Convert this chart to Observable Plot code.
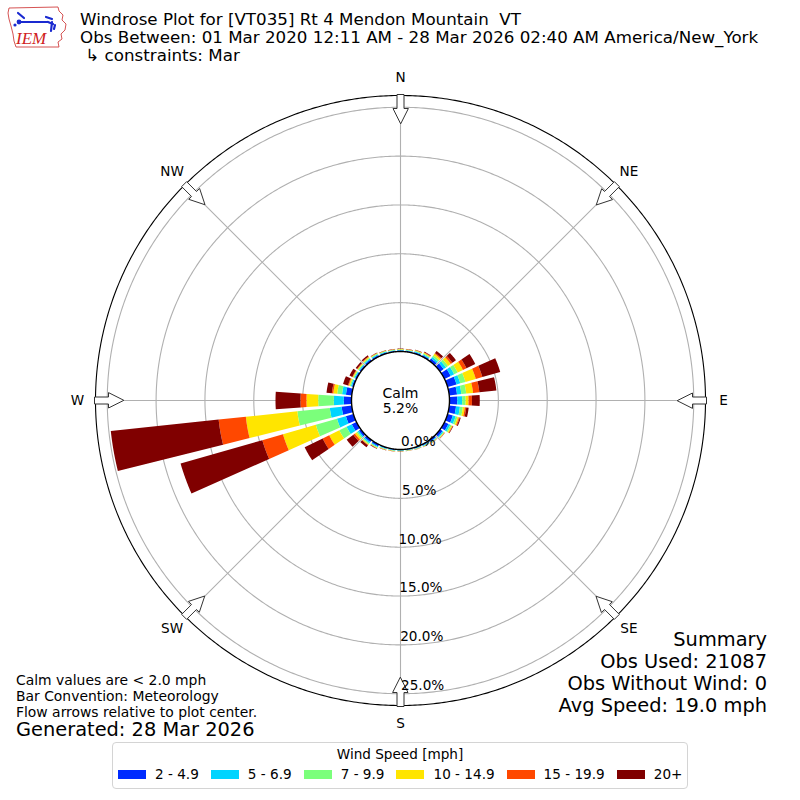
<!DOCTYPE html>
<html><head><meta charset="utf-8">
<script src="https://cdn.jsdelivr.net/npm/d3@7"></script>
<script src="https://cdn.jsdelivr.net/npm/@observablehq/plot@0.6"></script>
<style>
body{margin:0;background:#fff;font-family:"DejaVu Sans",sans-serif;}
#wrap{position:relative;width:800px;height:800px;overflow:hidden;background:#fff;}
#chart{position:absolute;left:0;top:0;}
.t{position:absolute;white-space:pre;color:#000;}
.sum{position:absolute;right:33px;font-size:19.4px;line-height:22px;text-align:right;white-space:pre;}
#legend{position:absolute;left:112px;top:742px;width:574px;height:45px;border:1px solid #d4d4d4;border-radius:4px;background:#fff;font-size:13.6px;}
#legend .ttl{position:absolute;left:0;right:0;top:2px;text-align:center;line-height:18px;}
#legend .row{position:absolute;left:5px;top:22px;display:flex;align-items:center;height:18px;white-space:pre;}
#legend .sw{display:inline-block;width:28px;height:9px;margin-right:9px;}
#legend .lb{margin-right:12px;}
</style></head><body>
<div id="wrap">
  <div id="chart"></div>
  <svg class="t" style="left:6px;top:4px" width="62" height="46" viewBox="0 0 62 46">
    <path d="M3,4 L52,3 L53,7 L57,11 L56,16 L60,20 L59,26 L55,30 L56,35 L52,38 L53,43 L10,43 L8,37 L7,30 L5,22 L3,15 L2,9 Z" fill="none" stroke="#d04040" stroke-width="0.9"/>
    <path d="M13,18 L42,18 M12,9 L18,14 M40,13 L46,15 M42,18 L47,20 M46,18 L45,27 M49,21 L48,25" stroke="#1a2ad0" stroke-width="2.2" fill="none" stroke-linecap="round"/>
    <circle cx="13" cy="18" r="2.4" fill="#1a2ad0"/>
    <circle cx="9" cy="21" r="1.6" fill="#1a2ad0"/>
    <text x="10" y="40" font-family="Liberation Serif" font-style="italic" font-size="17" fill="#d02020">IEM</text>
  </svg>
  <div class="t" style="left:80px;top:10px;font-size:16.7px;line-height:18px;">Windrose Plot for [VT035] Rt 4 Mendon Mountain  VT
Obs Between: 01 Mar 2020 12:11 AM - 28 Mar 2026 02:40 AM America/New_York
 ↳ constraints: Mar</div>
  <div class="t" style="left:16px;top:672px;font-size:13.9px;line-height:16px;">Calm values are &lt; 2.0 mph
Bar Convention: Meteorology
Flow arrows relative to plot center.</div>
  <div class="t" style="left:16px;top:719px;font-size:19.4px;line-height:22px;">Generated: 28 Mar 2026</div>
  <div class="sum" style="top:629px;">Summary</div>
  <div class="sum" style="top:651px;">Obs Used: 21087</div>
  <div class="sum" style="top:673px;">Obs Without Wind: 0</div>
  <div class="sum" style="top:695px;">Avg Speed: 19.0 mph</div>
  <div id="legend"><div class="ttl">Wind Speed [mph]</div><div class="row" id="legrow"></div></div>
</div>
<script>
// ---------- data ----------
const directions = d3.range(0, 360, 10); // bar centres, degrees from north
const speedBins = ["2 - 4.9", "5 - 6.9", "7 - 9.9", "10 - 14.9", "15 - 19.9", "20+"];
const binColors = ["#002bff", "#00d4ff", "#7bff7b", "#ffe500", "#ff4800", "#800000"];
// percent of observations per direction (0,10,...,350) for each speed bin
const bin2to5 =   [0.10,0.10,0.13,0.15,0.30,0.45,0.70,0.95,0.80,0.80,0.70,0.55,0.45,0.30,0.20,0.12,0.10,0.08,0.08,0.09,0.10,0.20,0.25,0.25,0.53,0.80,1.04,0.79,0.60,0.15,0.15,0.15,0.18,0.15,0.12,0.10];
const bin5to7 =   [0.06,0.06,0.09,0.10,0.20,0.30,0.40,0.40,0.45,0.50,0.40,0.30,0.20,0.12,0.08,0.08,0.06,0.05,0.05,0.06,0.07,0.10,0.15,0.15,0.60,0.95,1.22,1.02,0.40,0.12,0.10,0.10,0.12,0.10,0.08,0.06];
const bin7to10 =  [0.05,0.05,0.07,0.10,0.20,0.25,0.40,0.55,0.50,0.35,0.30,0.20,0.15,0.08,0.06,0.05,0.04,0.03,0.03,0.04,0.05,0.08,0.12,0.15,0.82,2.25,3.34,1.60,0.50,0.12,0.10,0.10,0.10,0.08,0.06,0.05];
const bin10to15 = [0.04,0.04,0.05,0.08,0.20,0.35,0.60,1.10,0.70,0.30,0.20,0.15,0.10,0.05,0.03,0.02,0.02,0.02,0.02,0.03,0.04,0.05,0.08,0.20,1.15,3.50,5.30,1.20,0.40,0.10,0.08,0.08,0.10,0.05,0.04,0.04];
const bin15to20 = [0.02,0.02,0.03,0.05,0.10,0.20,0.40,0.70,0.65,0.35,0.15,0.10,0.05,0.03,0.02,0.02,0.02,0.01,0.01,0.02,0.02,0.03,0.05,0.20,0.75,2.20,2.80,0.61,0.15,0.08,0.05,0.05,0.05,0.03,0.02,0.02];
const bin20plus = [0.03,0.03,0.03,0.07,0.25,0.45,1.00,1.90,1.75,0.80,0.25,0.10,0.05,0.02,0.01,0.01,0.01,0.01,0.01,0.01,0.02,0.04,0.25,0.85,2.05,8.70,11.10,2.56,0.55,0.53,0.32,0.17,0.15,0.04,0.03,0.03];
const calmPercent = 5.2;
const ringPercents = [0, 5, 10, 15, 20, 25];
const ringLabels = ["0.0%", "5.0%", "10.0%", "15.0%", "20.0%", "25.0%"];
const compassAngles = [0, 45, 90, 135, 180, 225, 270, 315];
const compassLabels = ["N", "NE", "E", "SE", "S", "SW", "W", "NW"];

// ---------- geometry (polar via azimuthal equidistant about the pole) ----------
const CX = 400, CY = 400;
const R0 = 49;        // px radius of calm circle (0%)
const K = 9.77;       // px per percent
const OFF = R0 / K;   // colatitude (deg) of 0%
const FRAME_P = (305 - R0) / K;
const LABEL_P = (323 - R0) / K;
const HW = 4;         // half bar width, degrees
const lonOf = th => 180 - th;
const latOf = p => 90 - (OFF + p);
const pOfPx = r => r / K - OFF;

function fixWinding(f) {
  if (d3.geoArea(f) > 2 * Math.PI) f.geometry.coordinates = f.geometry.coordinates.map(r => r.slice().reverse());
  return f;
}
function sectorRing(th0, th1, p0, p1) {
  const pts = [];
  const n = Math.max(2, Math.ceil((th1 - th0) / 0.5));
  for (let i = 0; i <= n; i++) pts.push([lonOf(th0 + (th1 - th0) * i / n), latOf(p0)]);
  for (let i = n; i >= 0; i--) pts.push([lonOf(th0 + (th1 - th0) * i / n), latOf(p1)]);
  pts.push(pts[0]);
  return pts;
}
const series = [bin2to5, bin5to7, bin7to10, bin10to15, bin15to20, bin20plus];
const barFeatures = [];
directions.forEach((dir, i) => {
  let cum = 0;
  series.forEach((arr, j) => {
    const v = arr[i];
    if (v > 0) barFeatures.push(fixWinding({type: "Feature", properties: {bin: speedBins[j]},
      geometry: {type: "Polygon", coordinates: [sectorRing(dir - HW, dir + HW, cum, cum + v)]}}));
    cum += v;
  });
});

const circleAt = p => d3.geoCircle().center([0, 90]).radius(OFF + p).precision(0.5)();
const gridCircles = ringPercents.filter(p => p > 0).map(circleAt);
const spokes = compassAngles.map(a => ({type: "LineString", coordinates: [[lonOf(a), latOf(0)], [lonOf(a), latOf(FRAME_P)]]}));

// hollow arrows pointing to centre, local shape (radial px, lateral px)
const arrowShape = [[277, 0], [292, 7.5], [292, 3.5], [306, 3.5], [306, -3.5], [292, -3.5], [292, -7.5]];
const arrows = compassAngles.map(a => {
  const ring = arrowShape.map(([u, v]) => {
    const r = Math.hypot(u, v), th = a + Math.atan2(v, u) * 180 / Math.PI;
    return [lonOf(th), latOf(pOfPx(r))];
  });
  ring.push(ring[0]);
  return fixWinding({type: "Feature", properties: {}, geometry: {type: "Polygon", coordinates: [ring]}});
});

const compass = compassAngles.map((a, i) => ({a, label: compassLabels[i]}));
const rings = ringPercents.map((p, i) => ({p, label: ringLabels[i]}));

const chart = Plot.plot({
  width: 800, height: 800, margin: 0,
  projection: d3.geoAzimuthalEquidistant().rotate([0, -90]).translate([CX, CY]).scale(K * 180 / Math.PI).precision(0.1),
  color: {domain: speedBins, range: binColors},
  style: {fontFamily: "DejaVu Sans", background: "transparent", overflow: "visible"},
  marks: [
    Plot.geo(gridCircles, {stroke: "#b0b0b0", strokeWidth: 1.1, fill: "none"}),
    Plot.geo(spokes, {stroke: "#b0b0b0", strokeWidth: 1.1}),
    Plot.geo([circleAt(FRAME_P)], {stroke: "#000", strokeWidth: 1.1, fill: "none"}),
    Plot.geo(barFeatures, {fill: d => d.properties.bin, stroke: "none"}),
    Plot.geo([circleAt(0)], {fill: "white", stroke: "#000", strokeWidth: 1.4}),
    Plot.geo(arrows, {fill: "white", stroke: "#333", strokeWidth: 1}),
    Plot.text(compass, {x: d => lonOf(d.a), y: () => latOf(LABEL_P), text: "label", fontSize: 13.6, fill: "#000"}),
    Plot.text(rings, {x: () => lonOf(179), y: d => latOf(d.p), text: "label", dx: 17, dy: -8, fontSize: 13.6, fill: "#000"}),
    Plot.text([calmPercent], {x: () => 0, y: () => 90, text: d => `Calm\n${d.toFixed(1)}%`, fontSize: 14, lineHeight: 1.07, fill: "#000"})
  ]
});
document.getElementById("chart").appendChild(chart);

// legend
const row = document.getElementById("legrow");
speedBins.forEach((b, i) => {
  const sw = document.createElement("span"); sw.className = "sw"; sw.style.background = binColors[i];
  const lb = document.createElement("span"); lb.className = "lb"; lb.textContent = b;
  row.appendChild(sw); row.appendChild(lb);
});
</script>
</body></html>
